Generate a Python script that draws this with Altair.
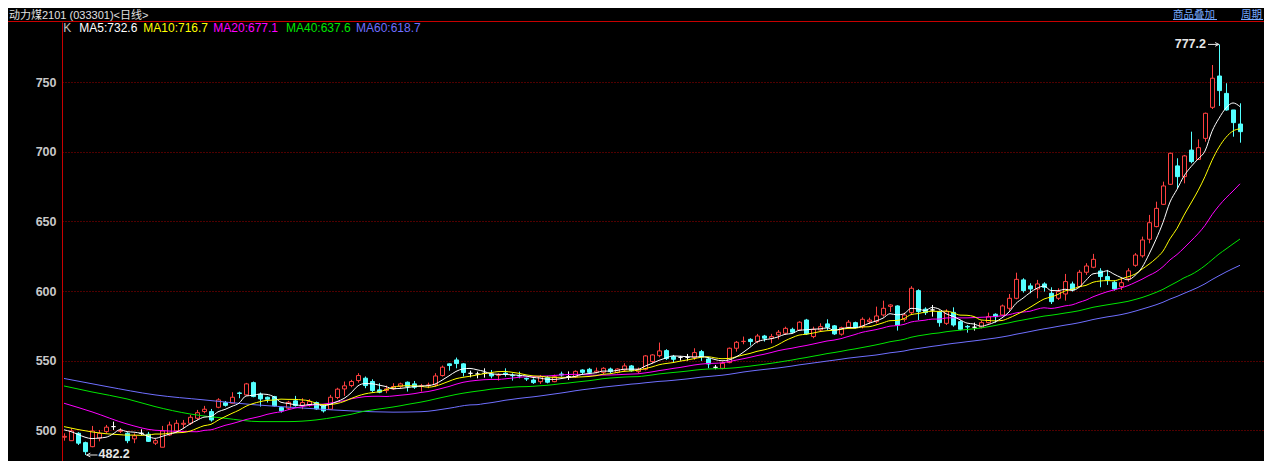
import altair as alt
import numpy as np
import pandas as pd

# ---------------- data ----------------
opens = [495.0, 492.5, 497.8, 491.1, 488.2, 494.3, 499.0, 502.6, 499.2, 497.8,
         493.8, 497.8, 497.1, 490.7, 487.8, 496.6, 499.5, 504.3, 505.0, 508.6,
         513.4, 513.4, 516.5, 519.8, 519.4, 526.8, 525.4, 534.2, 525.9, 523.7,
         524.2, 516.3, 515.8, 521.1, 517.7, 518.2, 519.9, 517.5, 515.1, 523.5,
         529.7, 532.1, 535.7, 537.4, 535.0, 529.0, 528.5, 529.7, 531.4, 534.5,
         533.3, 531.4, 532.1, 532.6, 539.3, 547.7, 550.5, 547.7, 540.9, 540.4,
         540.9, 540.4, 539.5, 541.0, 539.5, 539.2, 537.3, 536.1, 534.9, 537.8,
         534.9, 540.4, 538.5, 538.5, 543.3, 543.8, 541.6, 541.6, 544.0, 541.6,
         543.3, 546.2, 542.1, 543.8, 549.3, 553.6, 557.2, 552.9, 552.4, 552.4,
         552.4, 556.5, 551.2, 545.2, 544.5, 548.6, 558.9, 563.7, 565.3, 563.7,
         567.7, 566.1, 568.5, 569.7, 572.5, 572.0, 579.2, 567.3, 572.0, 576.4,
         575.0, 569.0, 574.0, 577.3, 574.4, 578.0, 578.0, 582.8, 589.0, 589.3,
         579.7, 584.5, 600.3, 587.0, 586.4, 585.2, 576.8, 584.7, 578.0, 574.6,
         574.0, 574.0, 577.3, 583.3, 582.8, 587.6, 594.8, 608.0, 603.7, 601.5,
         605.1, 598.4, 594.8, 597.9, 605.1, 603.2, 613.5, 617.1, 614.4, 610.4,
         606.3, 603.2, 608.8, 618.5, 625.3, 637.2, 646.3, 662.3, 676.7, 689.9,
         682.2, 701.3, 694.6, 709.7, 732.0, 754.5, 742.0, 730.1, 720.0]

highs = [497.8, 501.4, 498.6, 491.8, 503.1, 500.2, 503.8, 506.2, 501.6, 498.6,
         497.8, 500.7, 498.8, 493.8, 503.1, 506.2, 507.4, 507.4, 511.0, 514.6,
         517.5, 515.3, 523.0, 521.0, 527.3, 527.7, 534.0, 535.0, 527.1, 524.2,
         524.7, 517.0, 521.1, 524.7, 523.0, 522.3, 520.6, 518.0, 525.4, 530.5,
         535.0, 536.2, 541.0, 538.6, 536.6, 533.8, 532.1, 533.8, 534.2, 535.0,
         535.4, 533.3, 534.2, 541.0, 546.5, 548.0, 552.2, 548.1, 542.8, 542.1,
         544.5, 543.3, 540.9, 544.5, 540.9, 542.1, 537.8, 537.3, 539.7, 539.0,
         540.0, 542.1, 542.3, 543.0, 543.8, 544.8, 545.0, 545.3, 545.0, 544.5,
         548.1, 546.9, 545.0, 554.0, 554.6, 563.0, 558.2, 554.1, 553.4, 554.8,
         558.9, 557.7, 552.4, 546.9, 549.3, 559.4, 564.1, 567.3, 566.1, 569.2,
         568.5, 569.2, 572.0, 574.4, 573.7, 578.3, 580.0, 574.4, 576.8, 579.7,
         575.6, 574.4, 579.2, 578.0, 581.1, 580.9, 588.8, 593.1, 590.5, 589.8,
         584.5, 603.5, 601.3, 588.3, 590.0, 586.0, 586.9, 588.3, 579.0, 575.6,
         577.3, 578.8, 584.5, 584.0, 590.3, 597.9, 613.2, 609.2, 605.6, 608.0,
         606.3, 602.7, 602.0, 612.3, 606.8, 615.2, 620.0, 626.7, 616.4, 615.2,
         607.5, 609.2, 616.4, 627.3, 639.1, 654.7, 664.2, 678.6, 699.4, 695.4,
         697.8, 714.5, 709.0, 728.2, 762.4, 777.2, 749.3, 730.1, 734.9]

lows = [492.5, 492.5, 489.4, 482.2, 487.8, 492.0, 497.8, 500.2, 498.0, 490.7,
        490.7, 496.6, 491.6, 489.4, 487.8, 496.0, 498.0, 501.4, 503.8, 507.4,
        512.2, 506.2, 515.8, 517.0, 519.4, 523.0, 525.0, 523.7, 517.0, 519.9,
        517.0, 512.7, 514.6, 517.0, 515.1, 517.0, 514.6, 512.7, 514.6, 522.3,
        524.7, 530.9, 534.2, 530.2, 527.1, 526.6, 526.6, 529.0, 530.2, 527.8,
        529.7, 527.8, 530.2, 531.4, 538.6, 542.8, 544.5, 538.6, 538.0, 537.3,
        537.8, 537.3, 535.7, 538.5, 535.7, 537.3, 535.4, 533.3, 533.3, 533.7,
        534.5, 538.5, 536.1, 537.8, 539.7, 540.9, 540.9, 540.4, 540.9, 540.9,
        542.3, 542.1, 540.9, 543.0, 548.0, 552.4, 550.5, 548.6, 550.0, 550.0,
        550.5, 549.8, 544.5, 543.8, 543.8, 548.1, 556.5, 561.8, 560.8, 562.5,
        563.7, 562.5, 565.3, 568.5, 569.7, 571.3, 568.5, 566.1, 570.8, 572.0,
        568.5, 568.0, 573.2, 573.2, 573.2, 576.4, 576.8, 581.6, 585.0, 571.6,
        578.0, 583.0, 579.2, 582.8, 581.6, 574.4, 575.6, 574.4, 571.8, 570.1,
        571.6, 573.2, 576.8, 577.3, 582.0, 585.9, 594.1, 598.9, 598.4, 594.8,
        599.6, 590.7, 593.6, 593.1, 599.6, 602.7, 611.6, 616.4, 602.7, 604.4,
        600.3, 600.8, 606.8, 617.5, 624.0, 634.3, 645.8, 661.8, 676.2, 673.8,
        677.4, 691.8, 694.2, 707.3, 730.8, 733.0, 729.6, 710.9, 706.6]

closes = [495.6, 499.5, 490.7, 484.6, 499.5, 497.8, 502.2, 502.6, 499.8, 492.5,
          496.0, 497.8, 492.0, 492.5, 499.5, 503.8, 505.0, 505.0, 509.3, 512.6,
          515.1, 507.4, 521.8, 517.9, 523.7, 526.4, 533.3, 524.2, 522.5, 522.3,
          517.5, 513.9, 520.1, 517.7, 519.9, 520.6, 515.3, 513.9, 523.7, 529.5,
          531.9, 535.0, 539.3, 532.1, 528.5, 527.3, 529.7, 531.4, 533.3, 531.4,
          530.9, 531.9, 532.6, 539.0, 545.3, 546.5, 547.9, 541.5, 540.9, 540.4,
          540.9, 539.0, 539.7, 540.4, 539.2, 539.0, 536.8, 534.2, 538.5, 534.5,
          538.5, 539.7, 538.5, 542.3, 541.6, 541.6, 542.5, 544.5, 542.1, 544.0,
          546.2, 542.8, 543.8, 553.4, 554.1, 557.0, 551.5, 551.0, 552.4, 552.4,
          555.8, 552.9, 547.6, 545.2, 548.1, 558.9, 563.2, 563.9, 563.7, 567.7,
          566.1, 567.3, 570.4, 573.2, 570.4, 577.6, 569.2, 572.5, 574.4, 574.0,
          569.2, 573.7, 577.6, 574.0, 579.7, 579.2, 582.1, 587.6, 590.0, 575.6,
          582.8, 602.0, 585.2, 584.5, 586.4, 577.3, 585.2, 575.6, 572.5, 574.2,
          574.0, 577.3, 581.6, 581.6, 589.3, 594.8, 608.4, 600.3, 601.5, 605.1,
          602.7, 592.4, 599.6, 606.8, 600.8, 613.5, 618.0, 622.8, 610.4, 608.0,
          601.5, 606.0, 614.5, 625.9, 636.7, 649.1, 659.4, 675.5, 699.0, 682.2,
          697.1, 693.0, 703.0, 727.7, 752.9, 744.0, 730.1, 721.0, 714.5]

ma5_early_idx = [0, 1, 2, 3]
ma5_early_val = [500.3, 499.0, 497.0, 495.0]
ma10_early_idx = [0, 2, 4, 6, 8]
ma10_early_val = [502.6, 500.5, 498.8, 497.5, 496.8]
ma20_early_idx = [0, 4, 9, 13, 18]
ma20_early_val = [519.4, 513.2, 504.5, 500.0, 499.0]
ma40_early_idx = [0, 4, 9, 13, 18, 23, 28, 32, 36]
ma40_early_val = [531.8, 527.5, 522.5, 517.0, 511.7, 508.6, 506.2, 506.2, 507.4]
ma60_early_idx = [0, 6, 13, 20, 27, 34, 41, 47, 51, 55, 58]
ma60_early_val = [537.2, 531.5, 525.4, 521.8, 518.4, 516.0, 513.9, 513.0, 513.3, 515.8, 518.2]

ma_names = ["MA5", "MA10", "MA20", "MA40", "MA60"]
ma_windows = [5, 10, 20, 40, 60]
ma_colors = ["#ffffff", "#ffff00", "#ff00ff", "#00e600", "#6f6fff"]
legend_labels = ["K", "MA5:732.6", "MA10:716.7", "MA20:677.1", "MA40:637.6", "MA60:618.7"]
legend_colors = ["#c0c0c0"] + ma_colors

y_ticks = [500, 550, 600, 650, 700, 750]
title_text = "动力煤2101 (033301)<日线>"
link_texts = ["商品叠加", "周期"]

# ---------------- frames ----------------
n = len(closes)
df = pd.DataFrame({"i": np.arange(n), "o": opens, "h": highs, "l": lows, "c": closes})
df["dir"] = np.where(df.c > df.o, "up", np.where(df.c < df.o, "down", "flat"))

early = {
    "MA5": (ma5_early_idx, ma5_early_val),
    "MA10": (ma10_early_idx, ma10_early_val),
    "MA20": (ma20_early_idx, ma20_early_val),
    "MA40": (ma40_early_idx, ma40_early_val),
    "MA60": (ma60_early_idx, ma60_early_val),
}
ma_frames = {}
cs = pd.Series(closes)
for name, w in zip(ma_names, ma_windows):
    roll = cs.rolling(w).mean()
    ei, ev = early[name]
    rows = [(k, v) for k, v in zip(ei, ev) if k < w - 1]
    rows += [(k, float(roll[k])) for k in range(w - 1, n)]
    ma_frames[name] = pd.DataFrame(rows, columns=["i", "v"])

lo_i = int(np.argmin(lows))
hi_i = int(np.argmax(highs))
ann = pd.DataFrame({
    "i": [lo_i, hi_i],
    "v": [lows[lo_i], highs[hi_i]],
    "t": [f"{lows[lo_i]:.1f}", f"{highs[hi_i]:.1f}"],
})

# ---------------- layout ----------------
# whole drawing: 1256 x 453 px (fits inside the page's 8px margins)
W, H = 1202, 439
PAD_L, PAD_T = 54, 14
x_scale = alt.Scale(domain=[-2 / 7, W / 7 - 2 / 7], nice=False, zero=False)
y_scale = alt.Scale(domain=[477.9, 793.3], nice=False, zero=False)
y_axis = alt.Axis(values=y_ticks, grid=True, gridColor="#a00000", gridDash=[1, 2],
                  gridWidth=1, domain=True, domainColor="#c80000", domainWidth=1,
                  ticks=False, tickSize=0, labelColor="#c8c8c8",
                  labelFont="Liberation Sans", labelFontSize=12.5,
                  labelFontWeight="bold", labelPadding=6, title=None)


def X(f="i"):
    return alt.X(f"{f}:Q", scale=x_scale, axis=None)


def Y(f):
    return alt.Y(f"{f}:Q", scale=y_scale, axis=y_axis)


dir_dom = ["up", "down", "flat"]
stroke_scale = alt.Scale(domain=dir_dom, range=["#ff4040", "#54ffff", "#ffffff"])
fill_scale = alt.Scale(domain=dir_dom, range=["#000000", "#54ffff", "#ffffff"])

base = alt.Chart(df)

grid_layer = base.mark_point(opacity=0).encode(x=X(), y=Y("c"))

wicks = base.mark_rule(xOffset=0.5, strokeWidth=1).encode(
    x=X(), y=Y("l"), y2="h:Q",
    stroke=alt.Stroke("dir:N", scale=stroke_scale, legend=None))

bodies = base.mark_rect(xOffset=-1.5, x2Offset=2.5, strokeWidth=1).encode(
    x=X(), x2="i:Q", y=Y("o"), y2="c:Q",
    fill=alt.Fill("dir:N", scale=fill_scale, legend=None),
    stroke=alt.Stroke("dir:N", scale=stroke_scale, legend=None))

ma_layers = []
for name, col in zip(reversed(ma_names), reversed(ma_colors)):
    ma_layers.append(
        alt.Chart(ma_frames[name]).mark_line(strokeWidth=1, interpolate="monotone", color=col)
        .encode(x=X(), y=Y("v")))

one = alt.Data(values=[{"a": 1}])

# annotations for the lowest / highest price
ann_lo = ann.iloc[[0]]
ann_hi = ann.iloc[[1]]
ann_col = "#e6e6e6"
lo_rule = alt.Chart(ann_lo).mark_rule(xOffset=1.5, x2Offset=12.5, color=ann_col, strokeWidth=1).encode(
    x=X(), x2="i:Q", y=Y("v"))
lo_head = alt.Chart(ann_lo).mark_point(shape="M1,-1L-1,0L1,1", filled=False, size=14,
                                       xOffset=3.5, color=ann_col, strokeWidth=1, opacity=1).encode(
    x=X(), y=Y("v"))
lo_text = alt.Chart(ann_lo).mark_text(align="left", baseline="middle", dx=13.5, dy=-1,
                                      font="Liberation Sans", fontSize=12.5, fontWeight="bold",
                                      color=ann_col).encode(
    x=X(), y=Y("v"), text="t:N")
hi_rule = alt.Chart(ann_hi).mark_rule(xOffset=-11, x2Offset=0, color=ann_col, strokeWidth=1).encode(
    x=X(), x2="i:Q", y=Y("v"))
hi_head = alt.Chart(ann_hi).mark_point(shape="M-1,-1L1,0L-1,1", filled=False, size=14,
                                       xOffset=-2, color=ann_col, strokeWidth=1, opacity=1).encode(
    x=X(), y=Y("v"))
hi_text = alt.Chart(ann_hi).mark_text(align="right", baseline="middle", dx=-13, font="Liberation Sans",
                                      fontSize=12.5, fontWeight="bold", color=ann_col).encode(
    x=X(), y=Y("v"), text="t:N")

# frame line at the top of the panel
top_line = alt.Chart(one).mark_rule(color="#c80000", strokeWidth=1).encode(
    x=alt.value(-PAD_L), x2=alt.value(W), y=alt.value(-0.5))

# header texts
hdr_font = "Liberation Sans, Noto Sans CJK SC"
title = alt.Chart(one).mark_text(align="left", baseline="alphabetic", font=hdr_font,
                                 fontSize=11, color="#e0e0e0").encode(
    x=alt.value(-53), y=alt.value(-3.5), text=alt.value(title_text))

legend_x = [1.3, 17.3, 81.3, 151.3, 224, 294]
legend_layers = []
for lx, lab, lc in zip(legend_x, legend_labels, legend_colors):
    legend_layers.append(
        alt.Chart(one).mark_text(align="left", baseline="middle", font="Liberation Sans",
                                 fontSize=12, color=lc).encode(
            x=alt.value(lx), y=alt.value(5.5), text=alt.value(lab)))

link_col = "#78aaff"
link_x = [1111, 1179]
link_w = [44, 22]
link_layers = []
for lx, lw, lt in zip(link_x, link_w, link_texts):
    link_layers.append(
        alt.Chart(one).mark_text(align="left", baseline="alphabetic", font=hdr_font,
                                 fontSize=10.5, color=link_col).encode(
            x=alt.value(lx), y=alt.value(-4), text=alt.value(lt)))
    link_layers.append(
        alt.Chart(one).mark_rule(color=link_col, strokeWidth=1).encode(
            x=alt.value(lx), x2=alt.value(lx + lw), y=alt.value(-2.5)))

chart = alt.layer(
    grid_layer, wicks, bodies, *ma_layers,
    lo_rule, lo_head, lo_text, hi_rule, hi_head, hi_text,
    top_line, title, *legend_layers, *link_layers,
).properties(
    width=W, height=H,
    padding={"left": PAD_L, "top": PAD_T, "right": 0, "bottom": 0},
    autosize=alt.AutoSizeParams(type="none"),
    background="#000000",
).configure_view(stroke=None)

chart.save("out.html", embed_options={"renderer": "svg", "actions": False})
